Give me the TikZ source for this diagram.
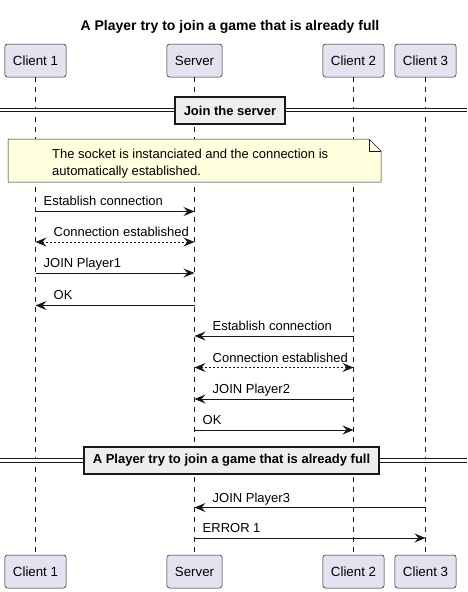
\documentclass[tikz,border=0pt]{standalone}
\usepackage{fontspec}
\setmainfont{Liberation Sans}
\usetikzlibrary{positioning, arrows.meta}
\definecolor{partfill}{HTML}{E2E2F0}
\definecolor{lineclr}{HTML}{181818}
\definecolor{notefill}{HTML}{FEFFDD}
\definecolor{divfill}{HTML}{EEEEEE}

\begin{document}
\begin{tikzpicture}[x=1pt, y=-1pt,
    part/.style={draw=lineclr, fill=partfill, rounded corners=2.5pt, line width=0.5pt, minimum height=33pt, inner xsep=8pt, font=\fontsize{13.3}{16}\selectfont},
    life/.style={draw=lineclr, line width=0.5pt, dash pattern=on 5pt off 5pt},
    msg/.style={draw=lineclr, line width=0.9pt, -{Stealth[length=11pt, width=9pt, inset=4pt]}},
    reply/.style={draw=lineclr, line width=0.9pt, {Stealth[length=11pt, width=9pt, inset=4pt]}-{Stealth[length=11pt, width=9pt, inset=4pt]}, dash pattern=on 2pt off 2pt},
    lbl/.style={inner sep=0pt, text depth=0pt, font=\fontsize{13}{15}\selectfont},
    sep/.style={draw=lineclr, double, double distance=2.4pt, line width=0.9pt},
    divbox/.style={draw=lineclr, fill=divfill, line width=1.5pt, minimum height=27pt, inner xsep=9pt, font=\bfseries\fontsize{13}{15}\selectfont},
    notebox/.style={draw=lineclr, fill=notefill, line width=0.5pt}
]
        \useasboundingbox (0,0) rectangle (467,592);

        \node[anchor=base, font=\bfseries\fontsize{14}{16}\selectfont] (title) at (230,30) {A Player try to join a game that is already full};

        \node[part] (c1t) at (35.5,60.5) {Client 1};
        \node[part] (svt) at (194.5,60.5) {Server};
        \node[part] (c2t) at (353.5,60.5) {Client 2};
        \node[part] (c3t) at (425.5,60.5) {Client 3};

        \node[part] (c1b) at (35.5,571.5) {Client 1};
        \node[part] (svb) at (194.5,571.5) {Server};
        \node[part] (c2b) at (353.5,571.5) {Client 2};
        \node[part] (c3b) at (425.5,571.5) {Client 3};

        \draw[life] (c1t.south) -- (c1b.north);
        \draw[life] (svt.south) -- (svb.north);
        \draw[life] (c2t.south) -- (c2b.north);
        \draw[life] (c3t.south) -- (c3b.north);

        \coordinate (d1l) at (0,110);
        \coordinate (d1r) at (467,110);
        \draw[sep] (d1l) -- (d1r);
        \node[divbox] (d1) at (230,110.5) {Join the server};

        \draw[notebox] (8,139) -- (369,139) -- (381,151) -- (381,182) -- (8,182) -- cycle;
        \draw[notebox, fill=none] (369,139) -- (369,151) -- (381,151);
        \node[align=left, anchor=north west, inner sep=0pt, font=\fontsize{13}{16.5}\selectfont] (nt) at (52,149)
        {The socket is instanciated and the connection is\\automatically established.};

        \coordinate (m1a) at (35.5,211.5);
        \coordinate (m1b) at (194.5,211.5);
        \coordinate (m2a) at (35.5,242);
        \coordinate (m2b) at (194.5,242);
        \coordinate (m3a) at (35.5,273);
        \coordinate (m3b) at (194.5,273);
        \coordinate (m4a) at (194.5,305.5);
        \coordinate (m4b) at (35.5,305.5);
        \coordinate (m5a) at (353.5,336);
        \coordinate (m5b) at (194.5,336);
        \coordinate (m6a) at (194.5,367.5);
        \coordinate (m6b) at (353.5,367.5);
        \coordinate (m7a) at (353.5,399);
        \coordinate (m7b) at (194.5,399);
        \coordinate (m8a) at (194.5,430);
        \coordinate (m8b) at (353.5,430);

        \draw[msg] (m1a) -- (m1b);
        \draw[reply] (m2a) -- (m2b);
        \draw[msg] (m3a) -- (m3b);
        \draw[msg] (m4a) -- (m4b);
        \draw[msg] (m5a) -- (m5b);
        \draw[reply] (m6a) -- (m6b);
        \draw[msg] (m7a) -- (m7b);
        \draw[msg] (m8a) -- (m8b);

        \node[lbl, above right=5.5pt and 8pt of m1a] (l1) {Establish connection};
        \node[lbl, above right=5pt and 18pt of m2a] (l2) {Connection established};
        \node[lbl, above right=5.5pt and 8pt of m3a] (l3) {JOIN Player1};
        \node[lbl, above right=5.5pt and 18pt of m4b] (l4) {OK};
        \node[lbl, above right=5pt and 18pt of m5b] (l5) {Establish connection};
        \node[lbl, above right=5pt and 18pt of m6a] (l6) {Connection established};
        \node[lbl, above right=5.5pt and 18pt of m7b] (l7) {JOIN Player2};
        \node[lbl, above right=5.5pt and 8pt of m8a] (l8) {OK};

        \coordinate (d2l) at (0,460.5);
        \coordinate (d2r) at (467,460.5);
        \draw[sep] (d2l) -- (d2r);
        \node[divbox] (d2) at (231.5,460.5) {A Player try to join a game that is already full};

        \coordinate (m9a) at (425.5,507.5);
        \coordinate (m9b) at (194.5,507.5);
        \coordinate (m10a) at (194.5,538);
        \coordinate (m10b) at (425.5,538);

        \draw[msg] (m9a) -- (m9b);
        \draw[msg] (m10a) -- (m10b);

        \node[lbl, above right=5pt and 18pt of m9b] (l9) {JOIN Player3};
        \node[lbl, above right=5pt and 8pt of m10a] (l10) {ERROR 1};

    \end{tikzpicture}
\end{document}
